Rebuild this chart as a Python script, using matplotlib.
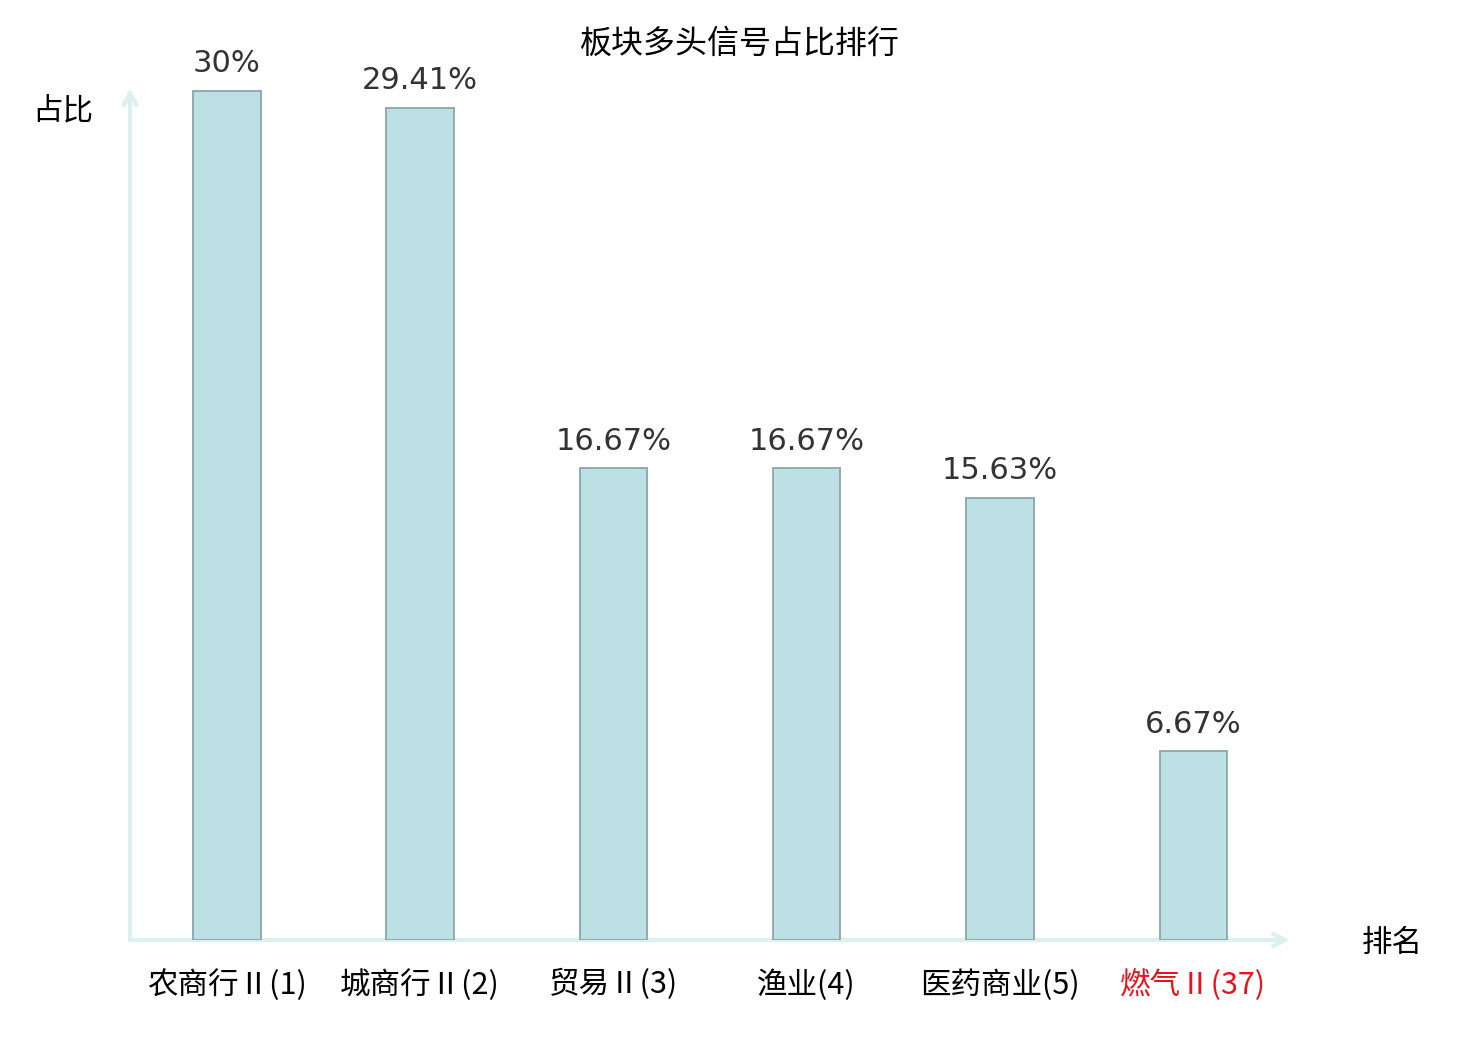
import matplotlib
matplotlib.use("Agg")
import matplotlib.pyplot as plt

plt.rcParams['font.family'] = ['Noto Sans CJK SC', 'DejaVu Sans']

categories = ["农商行Ⅱ(1)", "城商行Ⅱ(2)", "贸易Ⅱ(3)", "渔业(4)", "医药商业(5)", "燃气Ⅱ(37)"]
values = [30, 29.41, 16.67, 16.67, 15.63, 6.67]
value_labels = ["30%", "29.41%", "16.67%", "16.67%", "15.63%", "6.67%"]
label_colors = ["#000000", "#000000", "#000000", "#000000", "#000000", "#e8141c"]

W, H = 1480, 1040
fig = plt.figure(figsize=(W / 100, H / 100), dpi=100)
x0, x1 = 130, 1290
y0, y1 = 940, 88
ax = fig.add_axes([x0 / W, (H - y0) / H, (x1 - x0) / W, (y0 - y1) / H])

xs = list(range(len(categories)))
ax.bar(xs, values, width=0.35, color="#bce0e3", edgecolor="#8aa7a9", linewidth=1.3, zorder=2)
ax.set_xlim(-0.5, len(categories) - 0.5)
ax.set_ylim(0, 30 * (y0 - y1) / (y0 - 91))

for x, v, t in zip(xs, values, value_labels):
    ax.annotate(t, (x, v), xytext=(0, 9), textcoords="offset points",
                ha="center", va="bottom", fontsize=22, color="#333333",
                family=["DejaVu Sans"])

for s in ax.spines.values():
    s.set_visible(False)
ax.set_yticks([])
ax.set_xticks(xs)
ax.set_xticklabels(categories, fontsize=22)
ax.tick_params(axis="x", length=0, pad=21)
for lbl, c in zip(ax.get_xticklabels(), label_colors):
    lbl.set_color(c)

acol = "#dcf0ee"
ax.annotate("", xy=(1.0, 0), xytext=(0, 0), xycoords="axes fraction",
            arrowprops=dict(arrowstyle="->,head_length=0.9,head_width=0.45", color=acol, lw=3,
                            shrinkA=0, shrinkB=0), zorder=1, annotation_clip=False)
ax.annotate("", xy=(0, 1.0), xytext=(0, 0), xycoords="axes fraction",
            arrowprops=dict(arrowstyle="->,head_length=0.9,head_width=0.45", color=acol, lw=3,
                            shrinkA=0, shrinkB=0), zorder=1, annotation_clip=False)

fig.text(740 / W, 1 - 44 / H, "板块多头信号占比排行", ha="center", va="center", fontsize=23)
fig.text(63 / W, 1 - 111 / H, "占比", ha="center", va="center", fontsize=22)
fig.text(1392 / W, 1 - 943 / H, "排名", ha="center", va="center", fontsize=22)

fig.savefig("out.png", dpi=100)
